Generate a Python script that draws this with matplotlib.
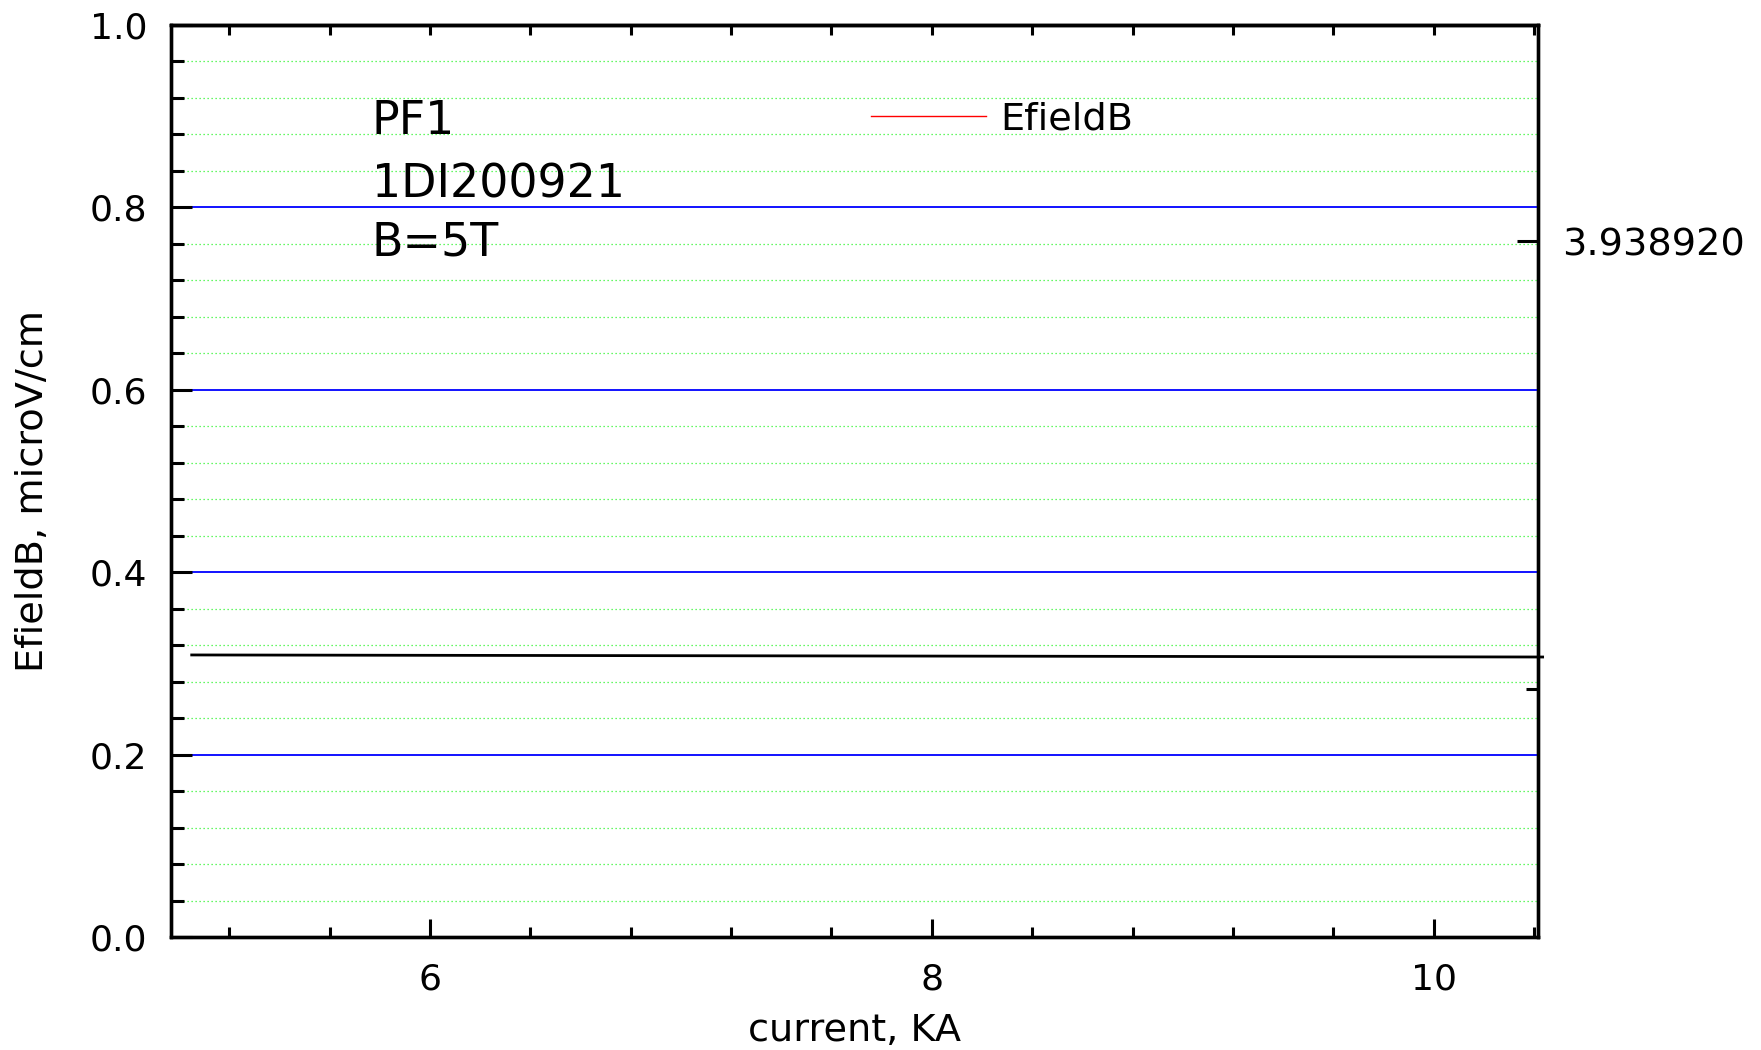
import matplotlib
matplotlib.use('Agg')
import matplotlib.pyplot as plt
from matplotlib.ticker import MultipleLocator, FixedLocator, FormatStrFormatter, NullFormatter
from matplotlib.lines import Line2D
from matplotlib.transforms import Bbox, TransformedBbox

plt.rcParams['font.family'] = ['DejaVu Sans']

# ---------------- data ----------------
current_ka = [5.045, 10.44]                       # x values of the plotted (layer 2) curve
efield_layer2 = [3.9389195380, 3.9389195357]      # right-axis values of the black curve
series_name = 'EfieldB'
annotation_lines = ['PF1', '1DI200921', 'B=5T']
x_major_ticks = [6, 8, 10]
right_major_ticks = [3.938920]
right_minor_ticks = [3.9389195]
x_label = 'current, KA'
y_label = 'EfieldB, microV/cm'

# ---------------- layout ----------------
W, H = 1761, 1050
fig = plt.figure(figsize=(W / 100, H / 100), dpi=100)
L, R, B, T = 171, 1538, 937, 25
ax = fig.add_axes([L / W, 1 - B / H, (R - L) / W, (B - T) / H])

ax.set_xlim(4.968, 10.416)
ax.set_ylim(0.0, 1.0)

for s in ax.spines.values():
    s.set_linewidth(2.4)

ax.xaxis.set_major_locator(FixedLocator(x_major_ticks))
ax.xaxis.set_minor_locator(MultipleLocator(0.4))
ax.yaxis.set_major_locator(MultipleLocator(0.2))
ax.yaxis.set_minor_locator(MultipleLocator(0.04))
ax.yaxis.set_major_formatter(FormatStrFormatter('%.1f'))

ax.tick_params(axis='x', which='both', direction='in', top=False, bottom=True,
               width=2.2, labelsize=26, pad=18.5)
ax.tick_params(axis='x', which='major', length=13)
ax.tick_params(axis='x', which='minor', length=7.2)
ax.tick_params(axis='y', which='both', direction='in', left=True, right=False,
               width=2.2, labelsize=26, pad=17)
ax.tick_params(axis='y', which='major', length=15)
ax.tick_params(axis='y', which='minor', length=9)

ax.yaxis.grid(True, which='minor', color='#33f533', linestyle=(0, (1, 2.2)), linewidth=0.9)
ax.yaxis.grid(True, which='major', color='#0000ff', linestyle='-', linewidth=1.3)
ax.set_axisbelow(False)

ax.set_xlabel(x_label, fontsize=27.5)
ax.set_ylabel(y_label, fontsize=27.5)
ax.xaxis.set_label_coords(0.5, -0.083)
ax.yaxis.set_label_coords(-0.088, 0.489)

# top ticks (all short)
top = ax.secondary_xaxis('top')
top.xaxis.set_major_locator(MultipleLocator(0.4))
top.xaxis.set_major_formatter(NullFormatter())
top.tick_params(axis='x', which='major', direction='in', length=7.2, width=2.2)
top.tick_params(axis='x', which='minor', length=0)
top.spines['top'].set_linewidth(2.4)

# right layer (second y axis)
ax2 = ax.twinx()
ax2.set_ylim(3.9389192232, 3.9389202411)
ax2.yaxis.set_major_locator(FixedLocator(right_major_ticks))
ax2.yaxis.set_minor_locator(FixedLocator(right_minor_ticks))
ax2.yaxis.set_major_formatter(FormatStrFormatter('%.6f'))
ax2.tick_params(axis='y', which='both', direction='in', width=2.2, labelsize=27.5, pad=17)
ax2.tick_params(axis='y', which='major', length=15)
ax2.tick_params(axis='y', which='minor', length=8.6)
for s in ax2.spines.values():
    s.set_linewidth(2.4)

ax2.plot(current_ka, efield_layer2, color='black', linewidth=2.0, clip_on=False,
         solid_capstyle='butt')

# clip the right tick label at the page edge like the original
clip = TransformedBbox(Bbox.from_extents(0, 0, 1743 / W, 1), fig.transFigure)
for tk in ax2.yaxis.get_major_ticks():
    tk.label2.set_clip_on(True)
    tk.label2.set_clip_box(clip)

# legend
handle = Line2D([], [], color='red', linewidth=1.0)
ax2.legend([handle], [series_name], loc='center left',
           bbox_to_anchor=(871 / W, 1 - 119 / H), bbox_transform=fig.transFigure,
           frameon=False, fontsize=27.5, handlelength=3.0, handletextpad=0.39,
           borderpad=0, borderaxespad=0)

# annotation block
baselines = [134, 197, 256]
for txt, yb in zip(annotation_lines, baselines):
    fig.text(372 / W, 1 - yb / H, txt, fontsize=33, va='baseline', ha='left')

fig.savefig('out.png', dpi=100)
